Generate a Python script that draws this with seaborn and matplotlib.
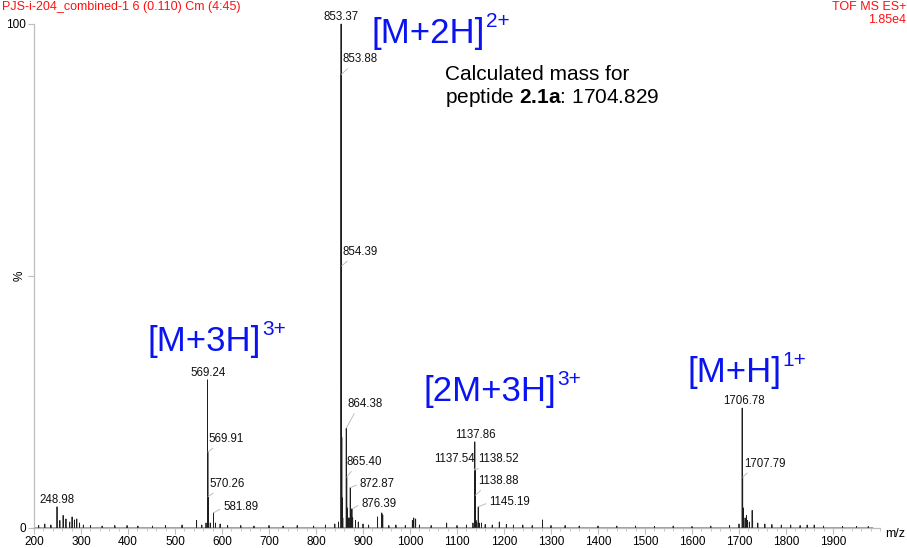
import numpy as np
import pandas as pd
import matplotlib
matplotlib.use("Agg")
import matplotlib.pyplot as plt
from matplotlib.ticker import MultipleLocator, FixedLocator
import seaborn as sns

# ---- spectrum data (m/z, relative intensity %) ----
labeled_mz = [248.98, 569.24, 569.91, 570.26, 581.89, 853.37, 853.88, 854.39,
              864.38, 865.40, 872.87, 876.39, 1137.54, 1137.86, 1138.52,
              1138.88, 1145.19, 1706.78, 1707.79]
labeled_int = [4.2, 29.4, 15.1, 6.2, 3.0, 100.0, 90.0, 52.0,
               19.8, 10.1, 8.0, 3.8, 11.5, 17.1, 11.5,
               6.5, 4.2, 23.8, 10.1]
peak_labels = ["248.98", "569.24", "569.91", "570.26", "581.89", "853.37",
               "853.88", "854.39", "864.38", "865.40", "872.87", "876.39",
               "1137.54", "1137.86", "1138.52", "1138.88", "1145.19",
               "1706.78", "1707.79"]

minor_mz = [210, 223, 236, 255, 262, 268, 276, 281, 286, 291, 297, 305, 320,
            345, 372, 398, 421, 452, 480, 515, 546, 557, 566, 570.6, 571.2,
            575, 586, 596, 612, 640, 668, 700, 730, 760, 795, 820, 840, 848,
            854.9, 855.4, 856.0, 857.0, 865.9, 866.4, 868, 870, 873.4, 873.9,
            877, 878, 884, 890, 900, 912, 931, 940, 942, 955, 970, 990, 1005,
            1008, 1012, 1020, 1045, 1078, 1100, 1120, 1134, 1139.2, 1139.5,
            1140.5, 1142, 1146, 1147, 1152, 1160, 1175, 1190, 1205, 1220,
            1240, 1260, 1282, 1300, 1330, 1360, 1400, 1440, 1480, 1520, 1560,
            1600, 1640, 1680, 1700, 1708.8, 1709.8, 1713, 1716, 1718, 1722,
            1728, 1729, 1740, 1755, 1770, 1790, 1810, 1830, 1845, 1860, 1880,
            1920, 1950, 1975]
minor_int = [0.5, 0.8, 0.6, 1.5, 2.5, 1.8, 1.2, 2.2, 1.6, 1.8, 1.0, 0.6, 0.5,
             0.4, 0.5, 0.5, 0.4, 0.4, 0.5, 0.6, 1.5, 0.6, 1.0, 2.0, 1.0,
             1.0, 1.0, 0.8, 0.5, 0.5, 0.4, 0.5, 0.4, 0.5, 0.4, 0.6, 0.8, 1.2,
             18.0, 6.0, 3.0, 2.0, 4.0, 1.5, 2.0, 2.0, 5.0, 2.5,
             2.0, 2.0, 1.5, 1.2, 0.8, 0.6, 2.2, 3.0, 2.6, 0.5, 0.6, 0.5, 1.5,
             2.0, 1.8, 0.6, 0.5, 1.0, 0.5, 0.6, 1.0, 3.5, 1.5,
             1.5, 1.0, 1.5, 1.0, 1.0, 0.7, 0.6, 1.2, 0.7, 0.6,
             0.6, 0.5, 1.6, 0.5, 0.5, 0.4, 0.4, 0.4, 0.4, 0.3, 0.4,
             0.3, 0.4, 0.5, 0.8, 4.0, 1.5, 2.0, 2.5, 1.5, 1.2,
             3.5, 1.5, 1.0, 0.8, 0.7, 0.6, 0.6, 0.5, 0.6, 0.6, 0.4,
             0.3, 0.3, 0.3]

x_ticks = list(range(200, 2000, 100))
x_ticklabels = [str(v) for v in x_ticks]

# ---- build a stick profile from the peak list ----
all_mz = np.array(labeled_mz + minor_mz, dtype=float)
all_int = np.array(labeled_int + minor_int, dtype=float)
order = np.argsort(all_mz)
half_w = 0.12
prof_x, prof_y = [200.0], [0.0]
for m, h in zip(all_mz[order], all_int[order]):
    prof_x += [m - half_w, m, m + half_w]
    prof_y += [0.0, h, 0.0]
prof_x.append(1985.0)
prof_y.append(0.0)
profile = pd.DataFrame({"mz": prof_x, "intensity": prof_y})

# ---- styling ----
sns.set_theme(style="white")
plt.rcParams["font.family"] = ["Liberation Sans", "DejaVu Sans"]
plt.rcParams["mathtext.fontset"] = "custom"
plt.rcParams["mathtext.rm"] = "Liberation Sans"
plt.rcParams["mathtext.bf"] = "Liberation Sans:bold"

W, H = 907, 548
fig = plt.figure(figsize=(W / 100, H / 100), dpi=100)
fig.patch.set_facecolor("white")
ax = fig.add_axes([34 / W, 20 / H, 846 / W, 504 / H])
ax.set_facecolor("white")

sns.lineplot(data=profile, x="mz", y="intensity", sort=False, estimator=None,
             color="#1e1e1e", linewidth=0.6, ax=ax)
for ln in ax.lines:
    ln.set_clip_on(False)

ax.set_xlim(200, 2000)
ax.set_ylim(0, 100)
ax.set_xlabel("")
ax.set_ylabel("")

ax.xaxis.set_major_locator(FixedLocator(x_ticks))
ax.set_xticklabels(x_ticklabels)
ax.xaxis.set_minor_locator(MultipleLocator(20))
ax.set_yticks([0, 50, 100])
ax.set_yticklabels(["0", "%", "100"])
ax.get_yticklabels()[1].set_rotation(90)
ax.get_yticklabels()[1].set_verticalalignment("center")

spine_col = "#bdbdbd"
for side in ("top", "right"):
    ax.spines[side].set_visible(False)
for side in ("left", "bottom"):
    ax.spines[side].set_color(spine_col)
    ax.spines[side].set_linewidth(0.9)
ax.tick_params(axis="both", which="major", direction="out", length=4,
               width=0.8, color=spine_col, labelsize=8.5, labelcolor="black",
               pad=2)
ax.tick_params(axis="x", which="minor", direction="out", length=2.5,
               width=0.6, color=spine_col)
ax.tick_params(axis="x", which="both", bottom=True)
ax.tick_params(axis="y", which="major", left=True)

fig.text(885 / W, 1 - 534 / H, "m/z", fontsize=9, va="center", ha="left",
         color="black")

# ---- peak labels ----
lab_fs = 8.3
lead_col = "#b5b5b5"
# (dx, dy) in pixels from the apex, text anchor, leader attachment
label_layout = {
    "248.98": ((0, 1), "center", "bottom", None),
    "569.24": ((1, 1), "center", "bottom", None),
    "569.91": ((1, 13), "left", "center", (0.25, 0.0)),
    "570.26": ((1, 13), "left", "center", (0.25, 0.0)),
    "581.89": ((9.5, 5.5), "left", "center", (0.0, 0.5)),
    "853.37": ((0, 1), "center", "bottom", None),
    "853.88": ((1, 15), "left", "center", (0.25, 0.0)),
    "854.39": ((1, 14), "left", "center", (0.25, 0.0)),
    "864.38": ((1, 24), "left", "center", (0.25, 0.0)),
    "865.40": ((0, 15), "left", "center", (0.2, 0.0)),
    "872.87": ((9.5, 4), "left", "center", (0.0, 0.5)),
    "876.39": ((9.5, 5), "left", "center", (0.0, 0.5)),
    "1137.54": ((0, 11), "right", "center", (0.95, 0.0)),
    "1137.86": ((1, 1), "center", "bottom", None),
    "1138.52": ((3.5, 11), "left", "center", (0.15, 0.0)),
    "1138.88": ((3, 14), "left", "center", (0.15, 0.0)),
    "1145.19": ((11, 4.5), "left", "center", (0.0, 0.5)),
    "1706.78": ((1.5, 1), "center", "bottom", None),
    "1707.79": ((2, 13.5), "left", "center", (0.15, 0.0)),
}
for mz, h, txt in zip(labeled_mz, labeled_int, peak_labels):
    (dx, dy), ha, va, rel = label_layout[txt]
    kw = {}
    if rel is not None:
        kw["arrowprops"] = dict(arrowstyle="-", color=lead_col, lw=0.6,
                                shrinkA=0, shrinkB=0, relpos=rel)
    ax.annotate(txt, xy=(mz, h), xytext=(dx, dy), textcoords="offset pixels",
                ha=ha, va=va, fontsize=lab_fs, color="#111111",
                annotation_clip=False, **kw)

# ---- ion assignments ----
ion_fs, sup_fs = 25, 15
ions = [("[M+3H]", "3+", 148, 351),
        ("[M+2H]", "2+", 372, 43),
        ("[2M+3H]", "3+", 424, 401),
        ("[M+H]", "1+", 688, 382)]
blue = "#0a14f0"
main_texts = []
for main, sup, x_px, base_px in ions:
    t = fig.text(x_px / W, 1 - base_px / H, main, fontsize=ion_fs,
                 color=blue, va="baseline", ha="left")
    main_texts.append((t, sup, base_px))

fig.canvas.draw()
renderer = fig.canvas.get_renderer()
for t, sup, base_px in main_texts:
    bb = t.get_window_extent(renderer)
    fig.text((bb.x1 + 0.5) / W, (H - base_px + 16) / H, sup,
             fontsize=sup_fs, color=blue, va="baseline", ha="left")

fig.text(445 / W, 1 - 80 / H, "Calculated mass for", fontsize=15,
         color="black", va="baseline", ha="left")
fig.text(445 / W, 1 - 103 / H, r"peptide $\mathbf{2.1a}$: 1704.829",
         fontsize=15, color="black", va="baseline", ha="left")

# ---- acquisition header ----
red = "#ff1010"
fig.text(2 / W, 1 - 10 / H, "PJS-i-204_combined-1 6 (0.110) Cm (4:45)",
         fontsize=9, color=red, va="baseline", ha="left")
fig.text(906 / W, 1 - 10 / H, "TOF MS ES+", fontsize=9, color=red,
         va="baseline", ha="right")
fig.text(906 / W, 1 - 23 / H, "1.85e4", fontsize=9, color=red,
         va="baseline", ha="right")

fig.savefig("out.png", dpi=100, facecolor="white")
